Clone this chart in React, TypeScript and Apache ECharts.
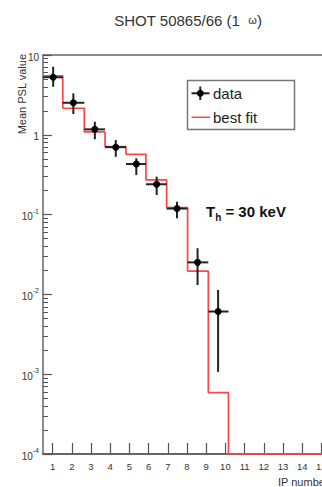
import React, { useEffect, useRef } from "react";
import * as echarts from "echarts";

// IP number axis
const ipTicks = [1, 2, 3, 4, 5, 6, 7, 8, 9, 10, 11, 12, 13, 14, 15];
const xMin = 0.5;
const xMax = 16;

// histogram bin edges (as drawn on the IP-number axis)
const binEdges = [0.5, 1.53, 2.65, 3.73, 4.82, 5.86, 6.94, 8.03, 9.11, 10.16];

// data points
const pointX = [1.03, 2.08, 3.2, 4.29, 5.36, 6.42, 7.48, 8.55, 9.62];
const meanPSL = [5.26, 2.52, 1.17, 0.7, 0.43, 0.24, 0.119, 0.0252, 0.0061];
const errLow = [4.0, 1.82, 0.88, 0.53, 0.313, 0.176, 0.09, 0.0131, 0.00107];
const errHigh = [7.13, 3.31, 1.46, 0.86, 0.508, 0.299, 0.145, 0.0379, 0.01135];

// best fit histogram
const bestFit = [5.46, 2.15, 1.09, 0.71, 0.57, 0.272, 0.122, 0.0196, 0.000586];
const fitFloor = 0.0001;

// y axis decades
const yMin = 0.0001;
const yMax = 10;
const decades = [0.0001, 0.001, 0.01, 0.1, 1, 10];
const minorMultipliers = [2, 3, 4, 5, 6, 7, 8, 9];

const FONT = "Liberation Sans, Arial, Helvetica, sans-serif";

export default function App() {
  const ref = useRef<HTMLDivElement>(null);

  useEffect(() => {
    if (!ref.current) return;
    const chart = echarts.init(ref.current, null, { renderer: "svg" });

    const minorTicks: number[] = [];
    for (let i = 0; i < decades.length - 1; i++) {
      for (const m of minorMultipliers) minorTicks.push(m * decades[i]);
    }

    const stepPts: number[][] = [];
    for (let i = 0; i < bestFit.length; i++) {
      stepPts.push([binEdges[i], bestFit[i]]);
      stepPts.push([binEdges[i + 1], bestFit[i]]);
    }
    stepPts.push([binEdges[binEdges.length - 1], fitFloor]);
    stepPts.push([xMax, fitFloor]);

    const pts = pointX.map((x, i) => [
      x,
      meanPSL[i],
      binEdges[i],
      binEdges[i + 1],
      errLow[i],
      errHigh[i],
    ]);

    const axisColor = "#666";

    chart.setOption({
      animation: false,
      backgroundColor: "#fff",
      grid: { left: 43, right: 360 - 340.6, top: 55, bottom: 33 },
      xAxis: [
        {
          type: "value",
          min: xMin,
          max: xMax,
          position: "bottom",
          axisLine: { show: true, onZero: false, lineStyle: { color: axisColor, width: 2 } },
          axisTick: {
            show: true,
            inside: true,
            length: 11,
            customValues: ipTicks,
            lineStyle: { color: "#555", width: 1.2 },
          },
          axisLabel: {
            show: true,
            customValues: ipTicks,
            fontSize: 9.5,
            fontFamily: FONT,
            color: "#333",
            margin: 7,
          },
          splitLine: { show: false },
        },
        {
          type: "value",
          min: xMin,
          max: xMax,
          position: "top",
          axisLine: { show: true, onZero: false, lineStyle: { color: axisColor, width: 1.5 } },
          axisTick: { show: false },
          axisLabel: { show: false },
          splitLine: { show: false },
        },
      ],
      yAxis: [
        {
          type: "log",
          logBase: 10,
          min: yMin,
          max: yMax,
          position: "left",
          axisLine: { show: true, onZero: false, lineStyle: { color: axisColor, width: 1.5 } },
          axisTick: {
            show: true,
            inside: true,
            length: 9,
            customValues: decades,
            lineStyle: { color: "#555", width: 1.2 },
          },
          axisLabel: {
            show: true,
            customValues: decades,
            margin: 4,
            fontFamily: FONT,
            color: "#333",
            formatter: (v: number) => {
              const n = Math.round(Math.log10(v));
              if (n === 1) return "{b|10}";
              if (n === 0) return "{b|1}";
              return "{b|10}{s|" + n + "}";
            },
            rich: {
              b: { fontSize: 10, fontFamily: FONT, color: "#333", lineHeight: 14, verticalAlign: "bottom" },
              s: { fontSize: 7, fontFamily: FONT, color: "#333", lineHeight: 14, verticalAlign: "top" },
            },
          },
          splitLine: { show: false },
          minorTick: { show: false },
        },
        {
          type: "log",
          logBase: 10,
          min: yMin,
          max: yMax,
          position: "left",
          axisLine: { show: false },
          axisTick: {
            show: true,
            inside: true,
            length: 5,
            customValues: minorTicks,
            lineStyle: { color: "#555", width: 1 },
          },
          axisLabel: { show: false },
          splitLine: { show: false },
        },
      ],
      series: [
        {
          type: "line",
          name: "best fit",
          data: stepPts,
          xAxisIndex: 0,
          yAxisIndex: 0,
          symbol: "none",
          clip: false,
          lineStyle: { color: "#ff4545", width: 1.7 },
          z: 3,
        },
        {
          type: "custom",
          name: "data",
          data: pts,
          xAxisIndex: 0,
          yAxisIndex: 0,
          encode: { x: 0, y: 1 },
          z: 4,
          renderItem: (params: any, api: any) => {
            const x = api.value(0);
            const y = api.value(1);
            const c = api.coord([x, y]);
            const l = api.coord([api.value(2), y]);
            const r = api.coord([api.value(3), y]);
            const lo = api.coord([x, api.value(4)]);
            const hi = api.coord([x, api.value(5)]);
            return {
              type: "group",
              children: [
                { type: "line", shape: { x1: l[0], y1: c[1], x2: r[0], y2: c[1] }, style: { stroke: "#222", lineWidth: 2 } },
                { type: "line", shape: { x1: c[0], y1: hi[1], x2: c[0], y2: lo[1] }, style: { stroke: "#222", lineWidth: 2 } },
                { type: "circle", shape: { cx: c[0], cy: c[1], r: 3.5 }, style: { fill: "#000" } },
              ],
            };
          },
        },
      ],
      graphic: [
        {
          type: "text",
          x: 188,
          y: 20,
          style: {
            text: "{t|SHOT 50865/66 (1  }{w|ω}{t|)}",
            align: "center",
            verticalAlign: "middle",
            rich: {
              t: { fontSize: 15, fontFamily: FONT, fill: "#333" },
              w: { fontSize: 11, fontFamily: FONT, fill: "#333" },
            },
          },
        },
        {
          type: "text",
          x: 22,
          y: 54,
          rotation: Math.PI / 2,
          style: {
            text: "Mean PSL value",
            align: "right",
            verticalAlign: "middle",
            fontSize: 11,
            fontFamily: FONT,
            fill: "#333",
          },
        },
        {
          type: "text",
          x: 278,
          y: 482,
          style: {
            text: "IP number",
            align: "left",
            verticalAlign: "middle",
            fontSize: 11,
            fontFamily: FONT,
            fill: "#333",
          },
        },
        {
          type: "rect",
          shape: { x: 187.5, y: 80.5, width: 107, height: 49 },
          style: { fill: "#fff", stroke: "#777", lineWidth: 1.5 },
          z: 10,
        },
        {
          type: "line",
          shape: { x1: 191.5, y1: 93.3, x2: 209.5, y2: 93.3 },
          style: { stroke: "#222", lineWidth: 2 },
          z: 11,
        },
        {
          type: "line",
          shape: { x1: 200.3, y1: 86.5, x2: 200.3, y2: 100 },
          style: { stroke: "#222", lineWidth: 2 },
          z: 11,
        },
        {
          type: "circle",
          shape: { cx: 200.3, cy: 93.3, r: 3.5 },
          style: { fill: "#000" },
          z: 11,
        },
        {
          type: "text",
          x: 213,
          y: 93.5,
          style: { text: "data", fontSize: 15, fontFamily: FONT, fill: "#222", verticalAlign: "middle" },
          z: 11,
        },
        {
          type: "line",
          shape: { x1: 191.5, y1: 117.3, x2: 210, y2: 117.3 },
          style: { stroke: "#ff4545", lineWidth: 1.5 },
          z: 11,
        },
        {
          type: "text",
          x: 213,
          y: 117.5,
          style: { text: "best fit", fontSize: 15, fontFamily: FONT, fill: "#222", verticalAlign: "middle" },
          z: 11,
        },
        {
          type: "text",
          x: 206,
          y: 213,
          style: {
            text: "{a|T}{h|h}{a| = 30 keV}",
            verticalAlign: "middle",
            rich: {
              a: { fontSize: 15, fontWeight: "bold", fontFamily: FONT, fill: "#111", lineHeight: 18, verticalAlign: "top" },
              h: { fontSize: 10, fontWeight: "bold", fontFamily: FONT, fill: "#111", lineHeight: 18, verticalAlign: "bottom" },
            },
          },
          z: 11,
        },
      ],
    });

    return () => chart.dispose();
  }, []);

  return (
    <div
      style={{
        position: "fixed",
        left: 0,
        top: 0,
        width: 322,
        height: 487,
        overflow: "hidden",
        background: "#fff",
      }}
    >
      <div ref={ref} style={{ width: 360, height: 487 }} />
    </div>
  );
}
